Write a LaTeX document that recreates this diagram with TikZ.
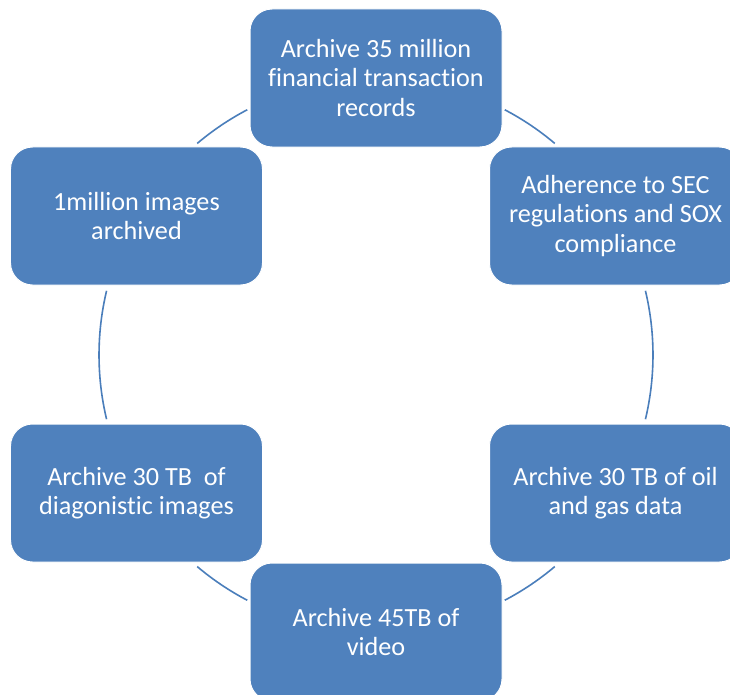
\documentclass[tikz,border=0pt]{standalone}
\usepackage{fontspec}
\setmainfont[Ligatures={NoCommon}]{Carlito}
\definecolor{boxblue}{HTML}{4F81BD}
\definecolor{arcblue}{HTML}{4A7EBB}
\begin{document}
\begin{tikzpicture}[x=1bp,y=1bp,
  cyclebox/.style={rectangle, rounded corners=22bp, minimum width=252bp, minimum height=138bp,
    fill=boxblue, draw=white, line width=1bp, text=white, align=center,
    font=\fontsize{26.2bp}{29.5bp}\selectfont, inner sep=0pt},
  arcline/.style={draw=arcblue, line width=1.6bp}]
\useasboundingbox (0,0) rectangle (730,-695);
\clip (0,0) rectangle (730,-695);
\fill[white] (0,0) rectangle (730,-695);
\coordinate (c) at (376,-355);
\foreach \a/\b in {62.3/49.8, 117.7/130.2, 166.6/193.4, 229.8/242.3, 297.7/310.2, -13.4/13.4}{
  \draw[arcline] ([shift={(\a:277)}]c) arc[start angle=\a, end angle=\b, radius=277];
}
\node[cyclebox] (top) at (376,-78) {Archive 35 million\\financial transaction\\records};
\node[cyclebox] (ur) at (615.5,-216) {Adherence to SEC\\regulations and SOX\\compliance};
\node[cyclebox] (lr) at (615.5,-493) {Archive 30 TB of oil\\and gas data};
\node[cyclebox] (bot) at (376,-632) {Archive 45TB of\\video};
\node[cyclebox] (ll) at (136.5,-493) {Archive 30 TB~ of\\diagonistic images};
\node[cyclebox] (ul) at (136.5,-216) {1million images\\archived};
\end{tikzpicture}
\end{document}
